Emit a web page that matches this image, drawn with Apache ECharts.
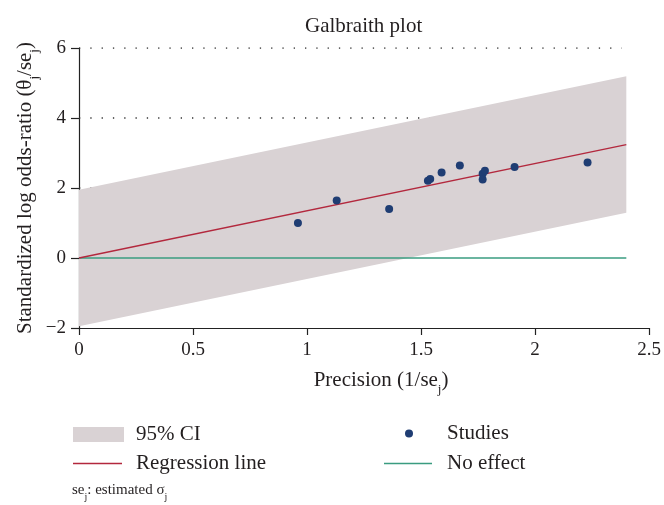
<!DOCTYPE html>
<html>
<head>
<meta charset="utf-8">
<script src="https://cdn.jsdelivr.net/npm/echarts@6/dist/echarts.min.js"></script>
<style>
html,body{margin:0;padding:0;background:#fff;}
#chart{width:664px;height:505px;}
</style>
</head>
<body>
<div id="chart"></div>
<script>
// ---- data ----
var xTicks = [0, 0.5, 1, 1.5, 2, 2.5];
var yTicks = [-2, 0, 2, 4, 6];
var studiesX = [0.96, 1.13, 1.36, 1.53, 1.54, 1.59, 1.67, 1.77, 1.78, 1.77, 1.91, 2.23];
var studiesY = [1.00, 1.64, 1.40, 2.21, 2.26, 2.44, 2.64, 2.41, 2.49, 2.24, 2.60, 2.73];
var regressionLine = [[0, 0], [2.4, 3.24]];
var ciUpper = [[0, 1.95], [2.4, 5.19]];
var ciLower = [[0, -1.95], [2.4, 1.29]];
var noEffectLine = [[0, 0], [2.4, 0]];
var gridLevels = [6, 4, 2];
var gridExtent = [0, 2.38];

var FONT = '"Liberation Serif", "DejaVu Serif", serif';
var TXT = '#231f20';
var BAND = '#d9d2d4';
var RED = '#b3283d';
var GREEN = '#3a9c80';
var NAVY = '#1f3d73';

var studies = studiesX.map(function (x, i) { return [x, studiesY[i]]; });

var series = [];
gridLevels.forEach(function (g) {
  series.push({
    type: 'line', silent: true, symbol: 'none', z: 1,
    data: [[gridExtent[0], g], [gridExtent[1], g]],
    lineStyle: { color: '#333', width: 1.3, type: [1.3, 10] }
  });
});
series.push({
  name: '95% CI', type: 'custom', z: 2, silent: true,
  itemStyle: { color: BAND },
  data: [[0, 0]],
  renderItem: function (params, api) {
    var pts = ciUpper.map(function (p) { return api.coord(p); })
      .concat(ciLower.slice().reverse().map(function (p) { return api.coord(p); }));
    return { type: 'polygon', shape: { points: pts }, style: { fill: BAND } };
  }
});
series.push({
  name: 'No effect', type: 'line', symbol: 'none', z: 3,
  data: noEffectLine, color: GREEN,
  lineStyle: { color: GREEN, width: 1.3 }
});
series.push({
  name: 'Regression line', type: 'line', symbol: 'none', z: 4,
  data: regressionLine, color: RED,
  lineStyle: { color: RED, width: 1.4 }
});
series.push({
  name: 'Studies', type: 'scatter', z: 5, symbolSize: 8,
  data: studies, color: NAVY,
  itemStyle: { color: NAVY, opacity: 1 }
});

function legendBox(name, icon, left, top, w, h, textPad) {
  return {
    data: [{ name: name, icon: icon }],
    left: left, top: top, padding: 0,
    itemWidth: w, itemHeight: h, selectedMode: false,
    textStyle: { fontFamily: FONT, fontSize: 21, color: TXT, padding: [0, 0, 0, textPad] }
  };
}

var subRich = {
  sub: { fontFamily: FONT, fontSize: 13, color: TXT, verticalAlign: 'bottom', padding: [0, 0, -5, 0] }
};

var option = {
  backgroundColor: '#fff',
  animation: false,
  title: {
    text: 'Galbraith plot', left: 300, top: 11,
    textStyle: { fontFamily: FONT, fontSize: 21, fontWeight: 'normal', color: TXT }
  },
  grid: { left: 79, right: 13, top: 48, bottom: 177 },
  xAxis: {
    type: 'value', min: xTicks[0], max: xTicks[xTicks.length - 1], interval: 0.5,
    name: 'Precision (1/se{sub|j})', nameLocation: 'middle', nameGap: 42,
    nameTextStyle: { fontFamily: FONT, fontSize: 21, color: TXT, padding: [0, 0, 0, 34], rich: subRich },
    axisLine: { show: true, onZero: false, lineStyle: { color: '#222', width: 1.2 } },
    axisTick: { show: true, length: 7, lineStyle: { color: '#222', width: 1.2 } },
    axisLabel: { fontFamily: FONT, fontSize: 19, color: TXT, margin: 13,
      formatter: function (v) { return String(v); } },
    splitLine: { show: false }
  },
  yAxis: {
    type: 'value', min: yTicks[0], max: yTicks[yTicks.length - 1], interval: 2,
    name: 'Standardized log odds-ratio (θ{sub|j}/se{sub|j})', nameLocation: 'middle', nameGap: 43,
    nameMoveOverlap: false,
    nameRotate: 90,
    nameTextStyle: { fontFamily: FONT, fontSize: 21, color: TXT, rich: subRich },
    axisLine: { show: true, onZero: false, lineStyle: { color: '#222', width: 1.2 } },
    axisTick: { show: true, length: 8, lineStyle: { color: '#222', width: 1.2 } },
    axisLabel: { fontFamily: FONT, fontSize: 19, color: TXT, margin: 13,
      formatter: function (v) { return String(v).replace('-', '\u2212'); } },
    splitLine: { show: false }
  },
  legend: [
    legendBox('95% CI', 'rect', 73, 424, 51, 15, 7),
    legendBox('Regression line', 'rect', 73, 453, 49, 1.5, 9),
    legendBox('Studies', 'circle', 405, 423, 8, 8, 29),
    legendBox('No effect', 'rect', 384, 453, 48, 1.5, 10)
  ],
  graphic: [{
    type: 'text', left: 72, top: 483,
    style: {
      text: 'se{sub|j}: estimated σ{sub|j}',
      fontFamily: FONT, fontSize: 15, fill: TXT,
      rich: { sub: { fontFamily: FONT, fontSize: 10, fill: TXT, verticalAlign: 'bottom', padding: [0, 0, -4, 0] } }
    }
  }],
  series: series
};

var chart = echarts.init(document.getElementById('chart'), null, { renderer: 'canvas' });
chart.setOption(option);
</script>
</body>
</html>
